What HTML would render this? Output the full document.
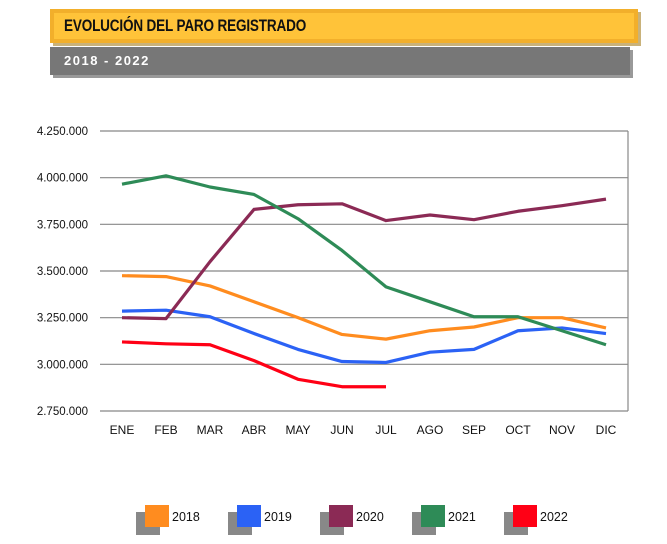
<!DOCTYPE html>
<html><head><meta charset="utf-8"><style>
body{margin:0;width:667px;height:544px;background:#fff;position:relative;font-family:"Liberation Sans",sans-serif;overflow:hidden}
.hdr{position:absolute;left:50px;top:9px;width:570px;height:26px;background:#FFC339;border:4px solid #F2AF2B;box-shadow:3px 3px 0 #c9b27a;font-weight:bold;font-size:16.5px;line-height:26px;padding-left:10px;color:#111;box-sizing:content-box}
.hdr span{display:inline-block;transform:scaleX(0.82);transform-origin:left center;letter-spacing:-0.2px}
.sub{position:absolute;left:50px;top:47px;width:566px;height:28px;background:#777;box-shadow:3px 3px 0 #999;color:#fff;font-weight:bold;font-size:13px;line-height:28px;padding-left:14px;letter-spacing:1.5px}
</style></head><body>
<div class="hdr"><span>EVOLUCIÓN DEL PARO REGISTRADO</span></div>
<div class="sub">2018 - 2022</div>
<svg id="c" width="667" height="544" style="position:absolute;left:0;top:0"></svg>
<script>
const months=["ENE","FEB","MAR","ABR","MAY","JUN","JUL","AGO","SEP","OCT","NOV","DIC"];
const yTicks=[2750000,3000000,3250000,3500000,3750000,4000000,4250000];
const yTickLabels=["2.750.000","3.000.000","3.250.000","3.500.000","3.750.000","4.000.000","4.250.000"];
const seriesNames=["2018","2019","2020","2021","2022"];
const seriesColors=["#FF8C1F","#2B62F5","#8B2A55","#2E8B57","#FF0015"];
const s2018=[3475000,3470000,3420000,3335000,3250000,3160000,3135000,3180000,3200000,3250000,3250000,3195000];
const s2019=[3285000,3290000,3255000,3165000,3080000,3015000,3010000,3065000,3080000,3180000,3195000,3165000];
const s2020=[3250000,3245000,3550000,3830000,3855000,3860000,3770000,3800000,3775000,3820000,3850000,3885000];
const s2021=[3965000,4010000,3950000,3910000,3780000,3610000,3415000,3335000,3255000,3255000,3180000,3105000];
const s2022=[3120000,3110000,3105000,3020000,2920000,2880000,2880000];
const allSeries=[s2018,s2019,s2020,s2021,s2022];
const NS="http://www.w3.org/2000/svg",svg=document.getElementById('c');
const L=100,R=628,T=131,B=411,ymin=2750000,ymax=4250000;
const x=i=>122+i*((606-122)/11);
const y=v=>B-(v-ymin)/(ymax-ymin)*(B-T);
function mk(t,a){const e=document.createElementNS(NS,t);for(const k in a)e.setAttribute(k,a[k]);svg.appendChild(e);return e;}
yTicks.forEach((v,i)=>{
 const g=mk('line',{x1:L,x2:R,y1:y(v),y2:y(v),stroke:'#888','stroke-width':1.2});
 
 
 const t=mk('text',{x:88,y:y(v)+4,'text-anchor':'end','font-size':11.5,fill:'#111'});t.textContent=yTickLabels[i];
 
 
});
const rb=mk('line',{x1:R,x2:R,y1:T,y2:B,stroke:'#888','stroke-width':1.2});


months.forEach((m,i)=>{const t=mk('text',{x:x(i),y:434,'text-anchor':'middle','font-size':12,fill:'#111'});t.textContent=m;
 
 });
allSeries.forEach((s,k)=>{
 const p=mk('polyline',{points:s.map((v,i)=>x(i)+','+y(v)).join(' '),fill:'none',stroke:seriesColors[k],'stroke-width':3.2,'stroke-linejoin':'round'});
 
 
 const lx=145+k*92;
 const sh=mk('rect',{x:lx-9,y:512,width:24,height:23,fill:'#888'});
 
 
 const sw=mk('rect',{x:lx,y:505,width:24,height:22,fill:seriesColors[k]});
 
 
 const t=mk('text',{x:lx+27,y:521,'font-size':12.5,fill:'#111'});t.textContent=seriesNames[k];
 
 
});
</script>
</body></html>
